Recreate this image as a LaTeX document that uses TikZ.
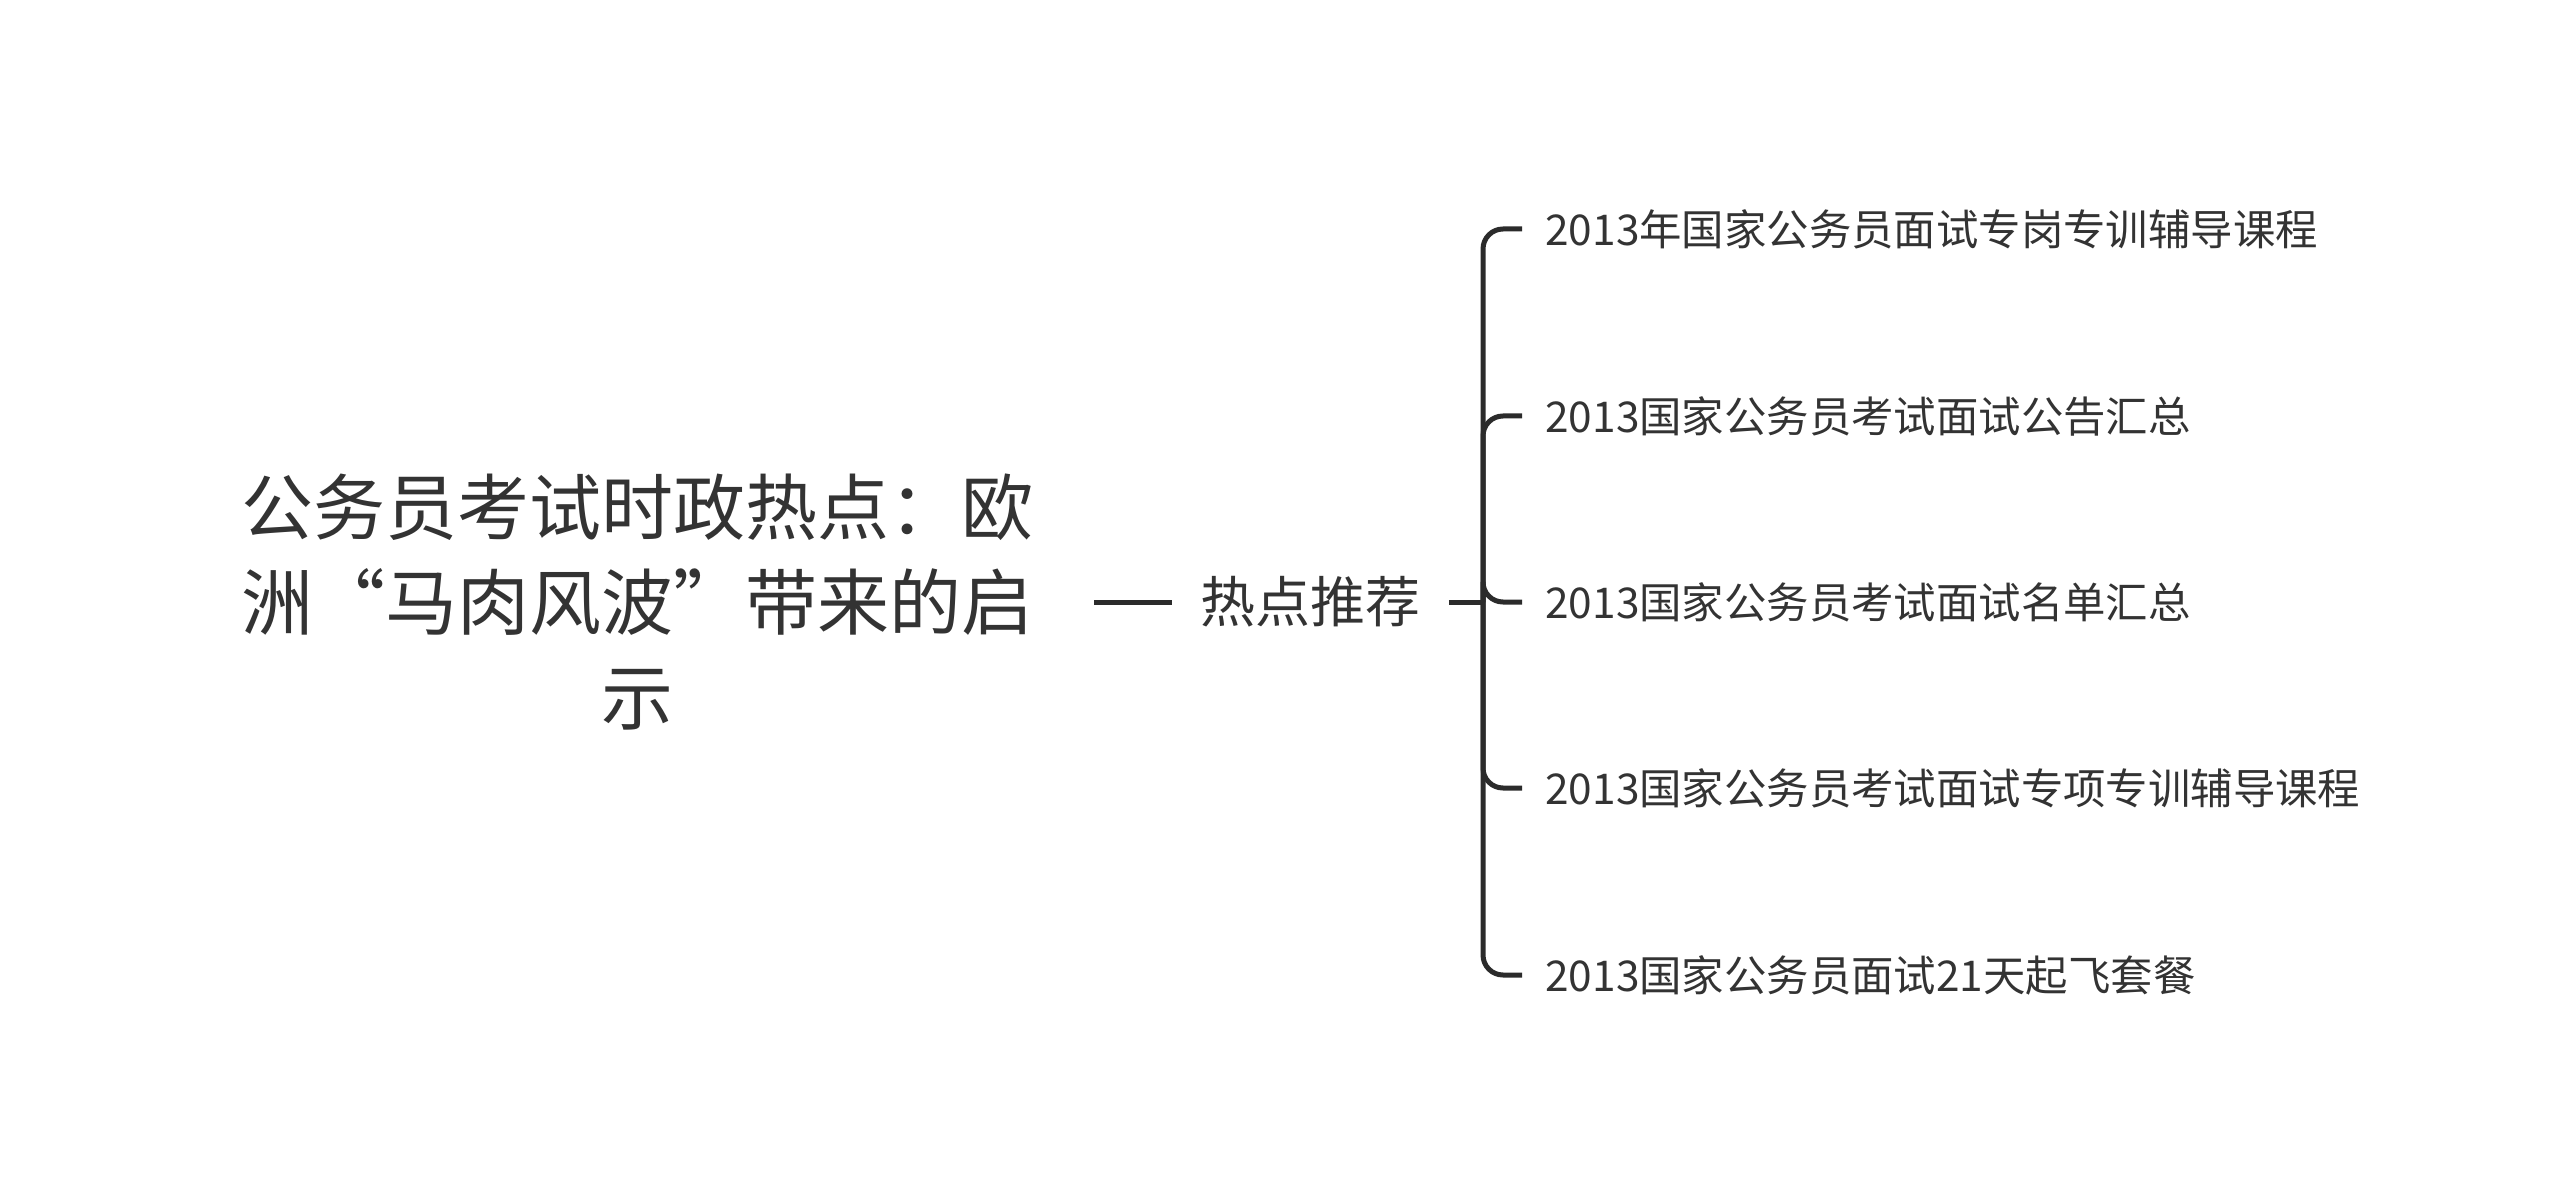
\documentclass[tikz,border=0pt]{standalone}
\usepackage{fontspec}
\usepackage{tikz}
\newfontfamily\cjk{Noto Sans CJK SC}
\definecolor{ink}{HTML}{333333}
\definecolor{wire}{HTML}{2B2B2B}

\begin{document}
\begin{tikzpicture}[x=0.5pt,y=-0.5pt,
  every node/.style={font=\cjk, text=ink},
  link/.style={draw=wire, line width=2.5pt},
  leaf/.style={anchor=west, inner xsep=11.5pt, inner ysep=0pt, font=\cjk\fontsize{21.2pt}{26pt}\selectfont}]
\useasboundingbox (0,0) rectangle (2560,1203);
\node[anchor=east, align=center, inner xsep=30pt, inner ysep=0pt,
  font=\cjk\fontsize{36pt}{47.5pt}\selectfont] (root) at (1094,602)
  {公务员考试时政热点：欧\\洲“马肉风波”带来的启\\示};
\node[anchor=west, inner xsep=14pt, font=\cjk\fontsize{27.5pt}{33pt}\selectfont] (hot) at (1172,602) {热点推荐};
\coordinate (fork) at (1483,602);
\node[leaf] (c1) at (1522,229) {2013年国家公务员面试专岗专训辅导课程};
\node[leaf] (c2) at (1522,416) {2013国家公务员考试面试公告汇总};
\node[leaf] (c3) at (1522,602) {2013国家公务员考试面试名单汇总};
\node[leaf] (c4) at (1522,788) {2013国家公务员考试面试专项专训辅导课程};
\node[leaf] (c5) at (1522,975) {2013国家公务员面试21天起飞套餐};
\draw[link] (root.east) -- (hot.west);
\draw[link] (hot.east) -- (fork);
\foreach \c in {c1,c2,c3,c4,c5}
  \draw[link, rounded corners=10pt] (fork) |- (\c.west);
\end{tikzpicture}
\end{document}
